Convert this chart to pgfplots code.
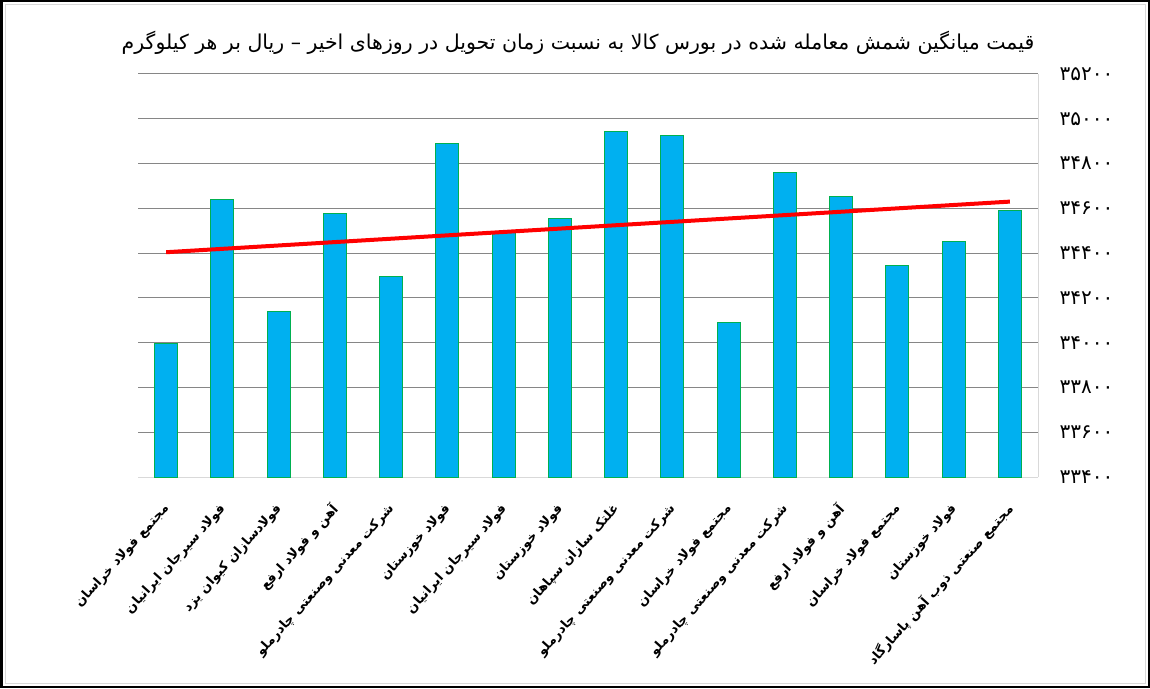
\documentclass[border=0pt]{standalone}
\usepackage{fontspec}
\usepackage{pgfplots}
\pgfplotsset{compat=1.18}
\TeXXeTstate=1
\newfontfamily\arabicfont[Script=Arabic]{DejaVu Sans}
\definecolor{barblue}{HTML}{00B0F0}
\definecolor{baredge}{HTML}{00B050}
\definecolor{gridgray}{HTML}{868686}
\definecolor{axisgray}{HTML}{D9D9D9}
\pgfplotstableread{
x y
1 33998
2 34638
3 34137
4 34575
5 34296
6 34888
7 34495
8 34553
9 34941
10 34924
11 34089
12 34758
13 34651
14 34343
15 34450
16 34590
}\prices
\begin{document}
\begin{tikzpicture}
\useasboundingbox (0,0) rectangle (1150pt,688pt);
\fill[white] (0,0) rectangle (1150pt,688pt);
\draw[axisgray, line width=1pt] (5pt,5pt) rectangle (1145pt,683pt);
\draw[black, line width=2.5pt] (1.25pt,1.25pt) rectangle (1148.75pt,686.75pt);
\node at (578pt,645pt) {\arabicfont\fontsize{20.5}{24}\selectfont\beginR قیمت میانگین شمش معامله شده در بورس کالا به نسبت زمان تحویل در روزهای اخیر – ریال بر هر کیلوگرم\endR};
\begin{axis}[
 at={(138pt,211pt)}, anchor=south west,
 scale only axis, width=900pt, height=403pt,
 xmin=0.5, xmax=16.5, ymin=33400, ymax=35200,
 axis line style={axisgray, line width=1pt},
 axis x line*=bottom, axis y line*=right,
 scaled y ticks=false,
 ytick={33400,33600,...,35200},
 yticklabels={۳۳۴۰۰,۳۳۶۰۰,۳۳۸۰۰,۳۴۰۰۰,۳۴۲۰۰,۳۴۴۰۰,۳۴۶۰۰,۳۴۸۰۰,۳۵۰۰۰,۳۵۲۰۰},
 ymajorgrids, grid style={gridgray, line width=1pt},
 major tick length=0pt,
 xtick={1,...,16},
 xticklabels={
  {\beginR مجتمع فولاد خراسان\endR},
  {\beginR فولاد سیرجان ایرانیان\endR},
  {\beginR فولادسازان کیوان یزد\endR},
  {\beginR آهن و فولاد ارفع\endR},
  {\beginR شرکت معدنی وصنعتی چادرملو\endR},
  {\beginR فولاد خوزستان\endR},
  {\beginR فولاد سیرجان ایرانیان\endR},
  {\beginR فولاد خوزستان\endR},
  {\beginR غلتک سازان سپاهان\endR},
  {\beginR شرکت معدنی وصنعتی چادرملو\endR},
  {\beginR مجتمع فولاد خراسان\endR},
  {\beginR شرکت معدنی وصنعتی چادرملو\endR},
  {\beginR آهن و فولاد ارفع\endR},
  {\beginR مجتمع فولاد خراسان\endR},
  {\beginR فولاد خوزستان\endR},
  {\beginR مجتمع صنعتی ذوب آهن پاسارگاد\endR}},
 xticklabel style={xshift=3pt, yshift=-27pt, rotate=48, anchor=east, font=\arabicfont\fontsize{13}{15}\selectfont\bfseries},
 yticklabel style={font=\arabicfont\fontsize{20}{22}\selectfont, xshift=18pt},
]
\addplot[ybar, bar width=23pt, fill=barblue, draw=baredge, line width=1pt] table[x=x,y=y] {\prices};
\addplot[red, line width=4pt, sharp plot] coordinates {(1,34404) (16,34630)};
\end{axis}
\end{tikzpicture}
\end{document}
